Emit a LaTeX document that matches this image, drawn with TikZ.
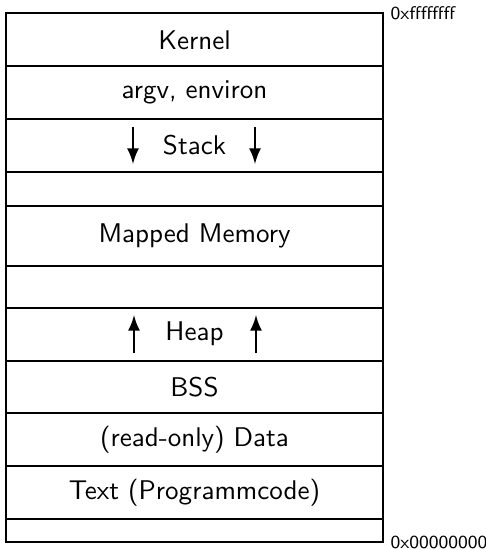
\documentclass[tikz,border=0pt]{standalone}
\usepackage{tikz}
\usetikzlibrary{arrows}

\begin{document}
\begin{tikzpicture}[x=0.013cm, y=-0.013cm, font=\sffamily]
            \useasboundingbox (0, 0) rectangle (486, 550);
            \draw (6, 13) rectangle (383, 542);
            \draw (6, 66) -- (383, 66);
            \draw (6, 119) -- (383, 119);
            \draw (6, 172) -- (383, 172);
            \draw (6, 206) -- (383, 206);
            \draw (6, 266) -- (383, 266);
            \draw (6, 308) -- (383, 308);
            \draw (6, 361) -- (383, 361);
            \draw (6, 413) -- (383, 413);
            \draw (6, 466) -- (383, 466);
            \draw (6, 519) -- (383, 519);
            \node (KERNEL) at (194.5, 40) {Kernel};
            \node (ARGV) at (194.5, 92) {argv, environ};
            \node (STACK) at (194.5, 145) {Stack};
            \node (MMAP) at (194.5, 236) {Mapped Memory};
            \node (HEAP) at (194.5, 334) {Heap};
            \node (BSS) at (194.5, 387) {BSS};
            \node (DATA) at (194.5, 440) {(read-only) Data};
            \node (TEXT) at (194.5, 493) {Text (Programmcode)};
            \draw[-latex, line width=1pt] (133, 127) -- (133, 164);
            \draw[-latex, line width=1pt] (255, 127) -- (255, 164);
            \draw[-latex, line width=1pt] (134, 353) -- (134, 315);
            \draw[-latex, line width=1pt] (256, 353) -- (256, 315);
            \node[right, inner sep=1.5pt, font=\sffamily\fontsize{6.8}{8}\selectfont] (TOP) at (386, 13) {0xffffffff};
            \node[right, inner sep=1.5pt, font=\sffamily\fontsize{6.8}{8}\selectfont] (BOTTOM) at (386, 542) {0x00000000};
            % \node[left] at (6, 13) {};
        \end{tikzpicture}
\end{document}
